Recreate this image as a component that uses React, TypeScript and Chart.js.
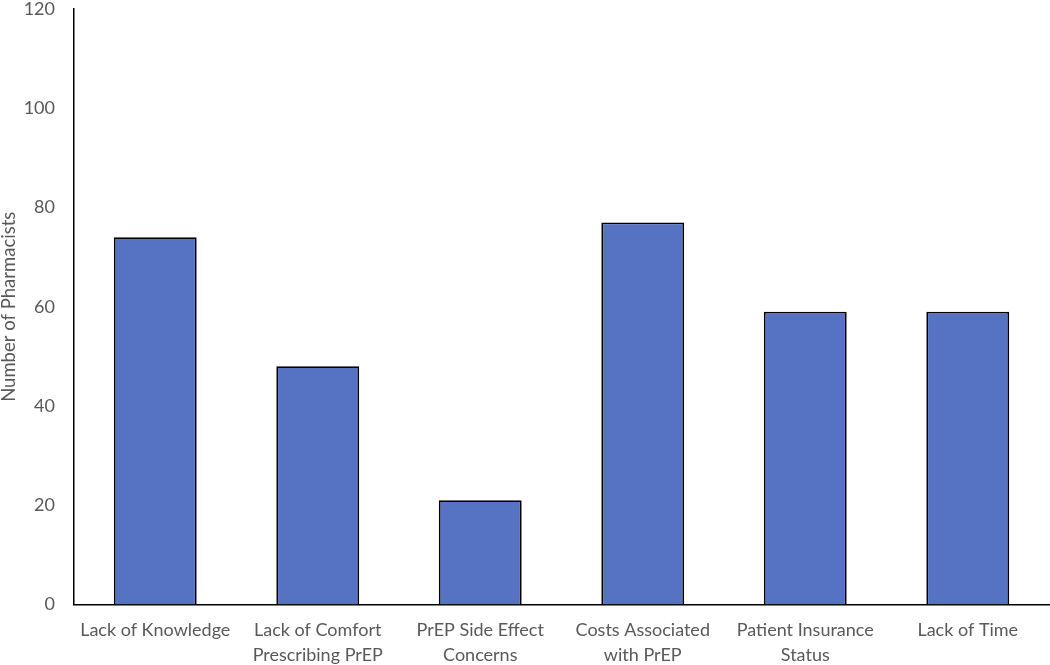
import React, { useEffect, useRef } from "react";
import { Chart, registerables } from "chart.js";

Chart.register(...registerables);

const categories: (string | string[])[] = [
  "Lack of Knowledge",
  ["Lack of Comfort", "Prescribing PrEP"],
  ["PrEP Side Effect", "Concerns"],
  ["Costs Associated", "with PrEP"],
  ["Patient Insurance", "Status"],
  "Lack of Time",
];
const pharmacists = [74, 48, 21, 77, 59, 59];
const yTicks = [0, 20, 40, 60, 80, 100, 120];

const FONT = "Lato, 'Open Sans', sans-serif";
const TEXT = "#595959";

export default function App() {
  const ref = useRef<HTMLCanvasElement | null>(null);
  useEffect(() => {
    if (!ref.current) return;
    const chart = new Chart(ref.current, {
      type: "bar",
      data: {
        labels: categories as any,
        datasets: [
          {
            label: "Number of Pharmacists",
            data: pharmacists,
            backgroundColor: "#5573C2",
            borderColor: "#000000",
            borderWidth: 1.8,
            barPercentage: 0.51,
            categoryPercentage: 1,
          },
        ],
      },
      options: {
        responsive: false,
        animation: false,
        layout: { padding: { left: 0, right: 1, top: 9, bottom: 0 } },
        plugins: { legend: { display: false }, tooltip: { enabled: false } },
        scales: {
          x: {
            grid: { display: false, drawTicks: false },
            border: { display: true, color: "#000000", width: 1.5 },
            ticks: {
              color: TEXT,
              font: { family: FONT, size: 18, lineHeight: 1.4 },
              padding: 13,
              maxRotation: 0,
              autoSkip: false,
            },
            afterFit: (scale: any) => {
              scale.height = 60.5;
              scale.paddingLeft = 0;
              scale.paddingRight = 0;
            },
          },
          y: {
            min: 0,
            max: 120,
            afterBuildTicks: (scale: any) => {
              scale.ticks = yTicks.map((v) => ({ value: v }));
            },
            grid: { display: false, drawTicks: false },
            border: { display: true, color: "#000000", width: 1.5 },
            ticks: {
              color: TEXT,
              font: { family: FONT, size: 18 },
              padding: 19,
            },
            title: {
              display: true,
              text: "Number of Pharmacists",
              color: TEXT,
              font: { family: FONT, size: 18.5, lineHeight: 1 },
              padding: { top: 0, bottom: 0 },
            },
            afterFit: (scale: any) => {
              scale.width = 74;
              scale.paddingTop = 0;
              scale.paddingBottom = 0;
            },
          },
        },
      },
    });
    return () => chart.destroy();
  }, []);
  return (
    <div style={{ position: "fixed", left: 0, top: 0, width: 1050, height: 665, background: "#fff" }}>
      <canvas ref={ref} width={1050} height={665} style={{ display: "block" }} />
    </div>
  );
}
